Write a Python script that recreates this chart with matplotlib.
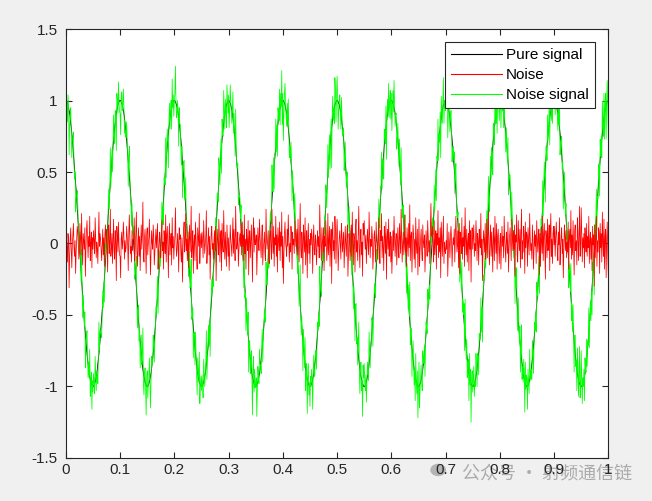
import matplotlib.pyplot as plt
from matplotlib.lines import Line2D
from matplotlib.patches import Circle
import numpy as np

plt.rcParams['font.family'] = ['Liberation Sans', 'Noto Sans CJK SC', 'DejaVu Sans']

# sample times, 0 .. 1 s, 1001 samples
t = np.linspace(0, 1, 1001)

# pure signal (10 Hz tone), one row per period
pure = [
    1, 1, .99, .98, .97, .95, .93, .91, .88, .84, .81, .77, .73, .68, .64, .59, .54, .48, .43, .37, .31, .25, .19, .13, .06, 0, -.06, -.13, -.19, -.25, -.31, -.37, -.43, -.48, -.54, -.59, -.64, -.68, -.73, -.77, -.81, -.84, -.88, -.91, -.93, -.95, -.97, -.98, -.99, -1, -1, -1, -.99, -.98, -.97, -.95, -.93, -.91, -.88, -.84, -.81, -.77, -.73, -.68, -.64, -.59, -.54, -.48, -.43, -.37, -.31, -.25, -.19, -.13, -.06, 0, .06, .13, .19, .25, .31, .37, .43, .48, .54, .59, .64, .68, .73, .77, .81, .84, .88, .91, .93, .95, .97, .98, .99, 1,
    1, 1, .99, .98, .97, .95, .93, .91, .88, .84, .81, .77, .73, .68, .64, .59, .54, .48, .43, .37, .31, .25, .19, .13, .06, 0, -.06, -.13, -.19, -.25, -.31, -.37, -.43, -.48, -.54, -.59, -.64, -.68, -.73, -.77, -.81, -.84, -.88, -.91, -.93, -.95, -.97, -.98, -.99, -1, -1, -1, -.99, -.98, -.97, -.95, -.93, -.91, -.88, -.84, -.81, -.77, -.73, -.68, -.64, -.59, -.54, -.48, -.43, -.37, -.31, -.25, -.19, -.13, -.06, 0, .06, .13, .19, .25, .31, .37, .43, .48, .54, .59, .64, .68, .73, .77, .81, .84, .88, .91, .93, .95, .97, .98, .99, 1,
    1, 1, .99, .98, .97, .95, .93, .91, .88, .84, .81, .77, .73, .68, .64, .59, .54, .48, .43, .37, .31, .25, .19, .13, .06, 0, -.06, -.13, -.19, -.25, -.31, -.37, -.43, -.48, -.54, -.59, -.64, -.68, -.73, -.77, -.81, -.84, -.88, -.91, -.93, -.95, -.97, -.98, -.99, -1, -1, -1, -.99, -.98, -.97, -.95, -.93, -.91, -.88, -.84, -.81, -.77, -.73, -.68, -.64, -.59, -.54, -.48, -.43, -.37, -.31, -.25, -.19, -.13, -.06, 0, .06, .13, .19, .25, .31, .37, .43, .48, .54, .59, .64, .68, .73, .77, .81, .84, .88, .91, .93, .95, .97, .98, .99, 1,
    1, 1, .99, .98, .97, .95, .93, .91, .88, .84, .81, .77, .73, .68, .64, .59, .54, .48, .43, .37, .31, .25, .19, .13, .06, 0, -.06, -.13, -.19, -.25, -.31, -.37, -.43, -.48, -.54, -.59, -.64, -.68, -.73, -.77, -.81, -.84, -.88, -.91, -.93, -.95, -.97, -.98, -.99, -1, -1, -1, -.99, -.98, -.97, -.95, -.93, -.91, -.88, -.84, -.81, -.77, -.73, -.68, -.64, -.59, -.54, -.48, -.43, -.37, -.31, -.25, -.19, -.13, -.06, 0, .06, .13, .19, .25, .31, .37, .43, .48, .54, .59, .64, .68, .73, .77, .81, .84, .88, .91, .93, .95, .97, .98, .99, 1,
    1, 1, .99, .98, .97, .95, .93, .91, .88, .84, .81, .77, .73, .68, .64, .59, .54, .48, .43, .37, .31, .25, .19, .13, .06, 0, -.06, -.13, -.19, -.25, -.31, -.37, -.43, -.48, -.54, -.59, -.64, -.68, -.73, -.77, -.81, -.84, -.88, -.91, -.93, -.95, -.97, -.98, -.99, -1, -1, -1, -.99, -.98, -.97, -.95, -.93, -.91, -.88, -.84, -.81, -.77, -.73, -.68, -.64, -.59, -.54, -.48, -.43, -.37, -.31, -.25, -.19, -.13, -.06, 0, .06, .13, .19, .25, .31, .37, .43, .48, .54, .59, .64, .68, .73, .77, .81, .84, .88, .91, .93, .95, .97, .98, .99, 1,
    1, 1, .99, .98, .97, .95, .93, .91, .88, .84, .81, .77, .73, .68, .64, .59, .54, .48, .43, .37, .31, .25, .19, .13, .06, 0, -.06, -.13, -.19, -.25, -.31, -.37, -.43, -.48, -.54, -.59, -.64, -.68, -.73, -.77, -.81, -.84, -.88, -.91, -.93, -.95, -.97, -.98, -.99, -1, -1, -1, -.99, -.98, -.97, -.95, -.93, -.91, -.88, -.84, -.81, -.77, -.73, -.68, -.64, -.59, -.54, -.48, -.43, -.37, -.31, -.25, -.19, -.13, -.06, 0, .06, .13, .19, .25, .31, .37, .43, .48, .54, .59, .64, .68, .73, .77, .81, .84, .88, .91, .93, .95, .97, .98, .99, 1,
    1, 1, .99, .98, .97, .95, .93, .91, .88, .84, .81, .77, .73, .68, .64, .59, .54, .48, .43, .37, .31, .25, .19, .13, .06, 0, -.06, -.13, -.19, -.25, -.31, -.37, -.43, -.48, -.54, -.59, -.64, -.68, -.73, -.77, -.81, -.84, -.88, -.91, -.93, -.95, -.97, -.98, -.99, -1, -1, -1, -.99, -.98, -.97, -.95, -.93, -.91, -.88, -.84, -.81, -.77, -.73, -.68, -.64, -.59, -.54, -.48, -.43, -.37, -.31, -.25, -.19, -.13, -.06, 0, .06, .13, .19, .25, .31, .37, .43, .48, .54, .59, .64, .68, .73, .77, .81, .84, .88, .91, .93, .95, .97, .98, .99, 1,
    1, 1, .99, .98, .97, .95, .93, .91, .88, .84, .81, .77, .73, .68, .64, .59, .54, .48, .43, .37, .31, .25, .19, .13, .06, 0, -.06, -.13, -.19, -.25, -.31, -.37, -.43, -.48, -.54, -.59, -.64, -.68, -.73, -.77, -.81, -.84, -.88, -.91, -.93, -.95, -.97, -.98, -.99, -1, -1, -1, -.99, -.98, -.97, -.95, -.93, -.91, -.88, -.84, -.81, -.77, -.73, -.68, -.64, -.59, -.54, -.48, -.43, -.37, -.31, -.25, -.19, -.13, -.06, 0, .06, .13, .19, .25, .31, .37, .43, .48, .54, .59, .64, .68, .73, .77, .81, .84, .88, .91, .93, .95, .97, .98, .99, 1,
    1, 1, .99, .98, .97, .95, .93, .91, .88, .84, .81, .77, .73, .68, .64, .59, .54, .48, .43, .37, .31, .25, .19, .13, .06, 0, -.06, -.13, -.19, -.25, -.31, -.37, -.43, -.48, -.54, -.59, -.64, -.68, -.73, -.77, -.81, -.84, -.88, -.91, -.93, -.95, -.97, -.98, -.99, -1, -1, -1, -.99, -.98, -.97, -.95, -.93, -.91, -.88, -.84, -.81, -.77, -.73, -.68, -.64, -.59, -.54, -.48, -.43, -.37, -.31, -.25, -.19, -.13, -.06, 0, .06, .13, .19, .25, .31, .37, .43, .48, .54, .59, .64, .68, .73, .77, .81, .84, .88, .91, .93, .95, .97, .98, .99, 1,
    1, 1, .99, .98, .97, .95, .93, .91, .88, .84, .81, .77, .73, .68, .64, .59, .54, .48, .43, .37, .31, .25, .19, .13, .06, 0, -.06, -.13, -.19, -.25, -.31, -.37, -.43, -.48, -.54, -.59, -.64, -.68, -.73, -.77, -.81, -.84, -.88, -.91, -.93, -.95, -.97, -.98, -.99, -1, -1, -1, -.99, -.98, -.97, -.95, -.93, -.91, -.88, -.84, -.81, -.77, -.73, -.68, -.64, -.59, -.54, -.48, -.43, -.37, -.31, -.25, -.19, -.13, -.06, 0, .06, .13, .19, .25, .31, .37, .43, .48, .54, .59, .64, .68, .73, .77, .81, .84, .88, .91, .93, .95, .97, .98, .99, 1,
    1,
]

# noise samples
noise = [
    .29, .04, -.02, -.13, .07, .01, -.31, -.08, .03, .11, -.05, -.17, .00, .06, .14, -.03, -.09, .02, -.21, -.06, .04, .12, .08, -.01, -.11,
    -.06, .14, .03, -.08, .21, -.01, -.15, .07, .02, -.04, .11, -.23, -.05, .09, .16, .02, -.10, .05, -.02, .19, -.12, .00, .08, -.17, .04,
    -.04, .09, .02, -.07, .18, .05, -.10, .01, -.03, -.14, .06, .22, -.02, .07, .03, -.05, -.12, -.01, .10, -.08, .04, -.16, .06, .13, .00,
    .10, -.03, -.20, .06, .13, -.07, .01, .24, -.09, -.02, .07, -.14, .03, .17, -.05, -.11, .09, .01, -.26, .12, .05, -.06, .15, -.01, -.08,
    -.09, -.24, .03, .08, -.04, .01, .15, .06, -.11, .02, -.06, -.03, .12, .05, -.01, -.19, .07, .20, .04, -.07, -.02, -.13, .09, -.05, .03,
    .03, .18, -.12, -.03, .08, .22, -.06, -.16, .02, .11, -.09, .05, -.19, .00, .13, -.04, .07, .29, -.07, -.13, .04, .10, -.02, -.21, .06,
    .11, -.08, .00, .04, .17, -.02, -.22, -.06, .09, .01, -.04, .13, .05, -.15, -.07, .02, .10, -.03, .06, .14, -.18, -.05, .03, .08, -.10,
    -.10, .05, .16, -.05, .01, -.18, .09, .03, -.07, .20, -.13, .06, .12, -.02, -.24, .04, .14, -.08, .01, .07, -.15, .18, -.03, .05, -.11,
    -.01, .05, .25, .02, -.09, -.04, .07, .00, -.20, .11, .03, .06, -.07, -.13, .04, -.27, -.02, .09, .15, -.06, .01, .21, -.05, .03, -.12,
    .08, -.17, .02, .13, -.06, .04, .26, -.10, -.03, .09, -.21, .01, .06, -.12, .15, .03, -.07, -.18, .11, .05, -.02, .21, -.14, .00, .07,
    -.03, .08, .01, -.10, .16, .04, -.07, -.01, .06, .23, -.14, -.05, .02, .11, -.08, .05, -.25, -.03, .07, .12, -.04, .00, -.11, .02, .09,
    -.05, .12, -.26, -.04, .10, .02, -.08, .17, .06, -.13, .03, .09, -.19, .14, -.01, -.06, .23, .04, -.11, .08, -.03, -.16, .13, .01, -.09,
    .04, -.19, -.06, .13, .03, -.02, -.09, .05, .18, -.07, .10, .01, -.12, .26, .06, -.04, -.01, .08, -.16, -.05, .03, .07, -.02, .14, -.08,
    .15, -.02, .06, -.12, .20, -.07, .03, -.18, .10, .01, -.05, .16, -.22, .04, .09, -.10, .02, .13, -.04, -.27, .07, .18, -.06, .11, -.01,
    .00, .06, -.22, -.07, .11, .02, -.05, .17, .04, -.01, -.10, .05, .13, -.15, -.03, .01, .08, -.06, -.12, .24, .03, -.04, .02, .09, -.11,
    -.14, .05, .09, -.03, -.11, .24, .02, -.07, .12, -.16, .04, -.01, .19, -.09, .06, -.20, .11, .03, -.05, .15, -.12, .08, -.02, .22, -.17,
    .05, -.28, -.08, .07, .15, .01, -.03, -.09, .10, -.02, .20, .04, -.13, .00, -.06, .12, .05, -.18, .08, -.01, .03, -.07, .16, .06, -.02,
    .02, .10, -.08, .17, -.04, -.13, .06, .28, -.03, -.10, .08, .01, -.21, .13, .05, -.06, .18, -.15, .00, .09, -.24, .04, .14, -.07, .03,
    -.14, .07, -.01, .10, .03, -.21, .04, .13, -.05, -.08, .06, .02, -.15, -.04, .09, -.02, .05, -.10, .27, .08, -.03, -.12, .11, .01, -.06,
    .11, -.19, .05, -.02, .16, .07, -.12, -.04, .21, -.08, .03, .12, -.16, -.01, .10, -.28, .06, .15, -.05, .02, -.11, .19, .08, -.14, .04,
    .17, .03, -.19, -.05, .04, .09, -.02, -.11, .14, .06, -.06, .01, .08, -.17, -.04, .12, .00, -.09, .05, .13, -.23, -.07, .07, .02, -.12,
    -.03, .13, -.09, .22, .01, -.15, .07, .04, -.20, .11, .17, -.06, .02, -.12, .08, .26, -.04, -.17, .05, .10, -.08, .01, -.23, .14, .06,
    .16, .04, -.04, .06, -.14, -.03, .10, .01, -.08, .22, .07, -.10, .03, -.02, .12, .05, -.18, -.06, .04, .09, -.03, -.13, .15, .02, -.01,
    -.11, .03, .18, -.05, -.14, .09, .02, .21, -.10, .05, -.02, -.19, .12, .06, -.07, .15, -.25, .03, .10, -.04, .17, -.09, .01, .08, -.13,
    .05, -.21, -.06, .09, -.05, .19, .06, -.09, .02, .07, -.15, -.03, .11, -.02, -.10, .14, .04, -.07, .24, .05, -.13, .00, .08, -.08, .03,
    .20, -.06, .04, -.16, .11, .01, -.09, .14, -.03, .27, -.12, .05, .08, -.20, -.02, .13, .06, -.11, .03, -.17, .18, .00, -.07, .10, -.22,
    -.02, .17, -.16, -.04, .03, .10, -.05, -.12, .13, .01, -.03, .06, -.20, -.07, .09, .01, -.09, .16, .04, -.06, .02, -.14, .11, .28, .06,
    .05, .12, -.04, -.13, .16, -.08, .02, .09, -.18, .07, -.01, .23, -.10, .04, -.06, .11, -.24, .15, .03, -.09, .06, .19, -.14, .01, -.05,
    -.07, .02, -.04, .14, -.23, -.06, .08, .01, -.10, .05, .12, .03, -.16, -.02, .04, -.01, .10, -.13, .06, .19, .04, -.06, -.01, .09, -.17,
    .14, -.21, .08, .02, -.07, .18, -.11, .04, -.02, .12, -.16, .25, .03, -.08, .10, -.13, .01, .07, -.19, .16, -.04, .09, -.27, .05, .11,
    -.04, .05, .13, -.09, .00, -.05, .16, .05, -.12, .07, .02, -.15, .10, .01, -.03, .21, -.08, .03, -.26, -.05, .09, .03, -.06, .14, -.11,
    -.02, .17, -.10, .06, .22, -.06, -.15, .03, .13, -.09, .08, -.03, -.20, .11, .04, -.12, .19, .02, -.07, .14, -.18, .05, .10, -.01, -.14,
    .01, .07, -.18, -.03, .12, -.02, .05, -.10, .19, .04, -.04, -.13, .08, .02, -.07, .15, -.20, -.04, .05, .11, .00, -.12, .17, .06, -.05,
    .09, -.04, .13, -.23, .06, .01, .20, -.08, -.13, .16, .03, -.05, .10, -.17, .07, .24, -.11, .02, -.06, .12, .05, -.21, .15, -.03, .08,
    .06, -.16, .11, .02, -.08, .21, .04, -.05, .00, -.11, .13, .03, -.18, -.04, .09, -.02, .06, -.14, .16, .03, -.06, .04, .10, -.22, .07,
    -.16, .11, .02, -.07, .19, -.12, .06, .14, -.02, -.25, .09, .04, -.10, .17, -.05, .01, .13, -.19, .08, .21, -.09, .03, -.14, .07, .12,
    -.01, .12, -.09, .02, .15, .05, -.04, -.12, .08, -.01, .18, -.15, -.03, .05, .11, -.07, .03, -.24, -.06, .13, .06, -.05, .09, -.10, .01,
    -.06, .15, -.18, .04, .10, -.03, .23, -.11, .06, -.08, .16, -.01, -.22, .09, .13, -.05, .02, -.15, .18, .07, -.12, .04, .26, -.09, -.02,
    .25, .08, -.13, .04, -.03, .07, -.17, .11, .00, -.06, .14, -.09, .05, -.03, .19, -.14, .02, .08, -.11, .04, -.19, .12, -.01, .06, -.30,
    .13, -.10, .05, .19, -.16, .02, -.06, .11, .08, -.21, .14, -.03, .07, -.13, .22, .01, -.09, .17, -.18, .05, .10, -.24, .03, .15, -.07,
    -.22,
]

noisy = np.array(pure) + np.array(noise)

fig = plt.figure(figsize=(6.52, 5.01), dpi=100, facecolor='#f0f0f0')

# watermark, drawn under the axes labels
fig.patches.append(Circle((0.672, 0.062), 0.011, transform=fig.transFigure,
                          color='#b4b4b4', zorder=-2))
fig.text(0.709, 0.054, '公众号 · 射频通信链', fontsize=13, color='#ababab',
         va='center', ha='left', zorder=-2,
         family=['Noto Sans CJK SC', 'DejaVu Sans'])

ax = fig.add_axes([0.101, 0.086, 0.832, 0.856])

ax.plot(t, pure, color='black', lw=0.6)
ax.plot(t, noisy, color='#00ff00', lw=0.55)
ax.plot(t, noise, color='#ff0000', lw=0.55)

ax.set_xlim(0, 1)
ax.set_ylim(-1.5, 1.5)
ax.set_xticks(np.arange(0, 1.01, 0.1))
ax.set_xticklabels(['0', '0.1', '0.2', '0.3', '0.4', '0.5', '0.6', '0.7', '0.8', '0.9', '1'])
ax.set_yticks([-1.5, -1, -0.5, 0, 0.5, 1, 1.5])
ax.set_yticklabels(['-1.5', '-1', '-0.5', '0', '0.5', '1', '1.5'])
ax.tick_params(direction='in', length=4, width=0.8, colors='#262626', labelsize=11,
               top=True, right=True, labeltop=False, labelright=False)
ax.tick_params(axis='y', pad=6)
ax.tick_params(axis='x', pad=4)
for s in ax.spines.values():
    s.set_color('#262626')
    s.set_linewidth(0.8)

handles = [Line2D([], [], color='black', lw=0.8),
           Line2D([], [], color='#ff0000', lw=0.8),
           Line2D([], [], color='#00ff00', lw=0.8)]
leg = ax.legend(handles, ['Pure signal', 'Noise', 'Noise signal'], loc='upper right',
                fontsize=11, fancybox=False, framealpha=1, edgecolor='#262626',
                handlelength=3.3, handletextpad=0.3, labelspacing=0.38,
                borderaxespad=0.85, borderpad=0.42)
leg.get_frame().set_linewidth(0.8)

fig.savefig('out.png', dpi=100, facecolor=fig.get_facecolor())
